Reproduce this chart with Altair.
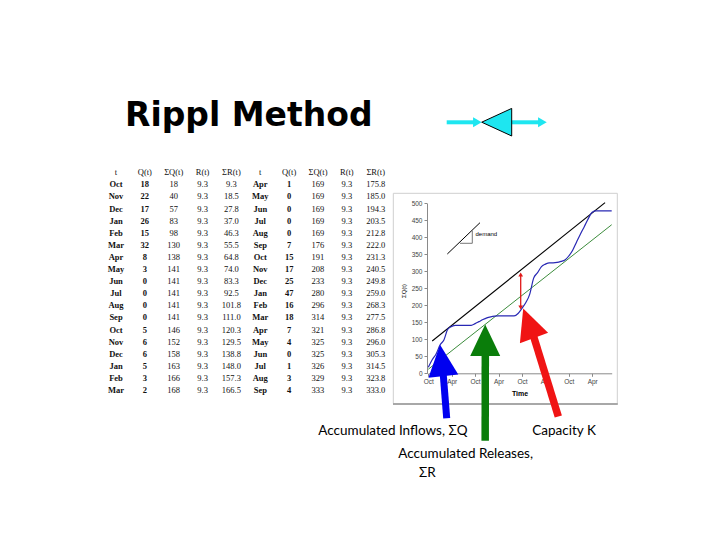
import altair as alt
import pandas as pd

# ---------------- data ----------------
headers = ["t", "Q(t)", "ΣQ(t)", "R(t)", "ΣR(t)"]

months_a = ["Oct", "Nov", "Dec", "Jan", "Feb", "Mar", "Apr", "May", "Jun",
            "Jul", "Aug", "Sep", "Oct", "Nov", "Dec", "Jan", "Feb", "Mar"]
q_a = [18, 22, 17, 26, 15, 32, 8, 3, 0, 0, 0, 0, 5, 6, 6, 5, 3, 2]
cq_a = [18, 40, 57, 83, 98, 130, 138, 141, 141, 141, 141, 141, 146, 152, 158, 163, 166, 168]
r_a = [9.3] * 18
cr_a = [9.3, 18.5, 27.8, 37.0, 46.3, 55.5, 64.8, 74.0, 83.3, 92.5, 101.8, 111.0,
        120.3, 129.5, 138.8, 148.0, 157.3, 166.5]

months_b = ["Apr", "May", "Jun", "Jul", "Aug", "Sep", "Oct", "Nov", "Dec",
            "Jan", "Feb", "Mar", "Apr", "May", "Jun", "Jul", "Aug", "Sep"]
q_b = [1, 0, 0, 0, 0, 7, 15, 17, 25, 47, 16, 18, 7, 4, 0, 1, 3, 4]
cq_b = [169, 169, 169, 169, 169, 176, 191, 208, 233, 280, 296, 314, 321, 325, 325, 326, 329, 333]
r_b = [9.3] * 18
cr_b = [175.8, 185.0, 194.3, 203.5, 212.8, 222.0, 231.3, 240.5, 249.8, 259.0, 268.3, 277.5,
        286.8, 296.0, 305.3, 314.5, 323.8, 333.0]

# graph continues past the table
cq_extra = [345, 362, 386, 410, 432, 455, 474, 478, 478, 478, 478, 478]

# straight lines
release_m = [0, 47]
release_v = [12, 437]
capacity_m = [1.0, 45.3]
capacity_v = [95, 502]

x_tick_labels = ["Oct", "Apr", "Oct", "Apr", "Oct", "Apr", "Oct", "Apr"]
y_ticks = [0, 50, 100, 150, 200, 250, 300, 350, 400, 450, 500]

# ---------------- tables ----------------
cells = []
for i, h in enumerate(headers + headers):
    cells.append({"col": i, "row": 0, "txt": h, "bold": False})
for r in range(18):
    left = [months_a[r], str(q_a[r]), str(cq_a[r]), f"{r_a[r]:.1f}", f"{cr_a[r]:.1f}"]
    right = [months_b[r], str(q_b[r]), str(cq_b[r]), f"{r_b[r]:.1f}", f"{cr_b[r]:.1f}"]
    for c, s in enumerate(left + right):
        cells.append({"col": c, "row": r + 1, "txt": s, "bold": c in (0, 1, 5, 6)})
table_df = pd.DataFrame(cells)

inflow_all = cq_a + cq_b + cq_extra
inflow_df = pd.DataFrame({"m": list(range(len(inflow_all))), "v": inflow_all})
release_df = pd.DataFrame({"m": release_m, "v": release_v})
capacity_df = pd.DataFrame({"m": capacity_m, "v": capacity_v})

ONE = alt.Data(values=[{"k": 0}])

# ---------------- scales ----------------
TX = alt.Scale(domain=[0, 9], range=[116, 375.7], nice=False, zero=False)
TY = alt.Scale(domain=[0, 18], range=[172.3, 390], nice=False, zero=False)
GX = alt.Scale(domain=[0, 47], range=[428.3, 611.7], nice=False, zero=False)
GY = alt.Scale(domain=[0, 500], range=[373.3, 203.3], nice=False, zero=False)

label_expr = str(x_tick_labels).replace(" ", "") + "[round(datum.value/6)]"

x_axis = alt.Axis(values=list(range(0, 48, 6)), labelExpr=label_expr, orient="bottom",
                  offset=-166.7, title=None, grid=False, domainColor="#8a8a8a",
                  tickColor="#8a8a8a", tickSize=3, labelFontSize=6.5,
                  labelFont="Liberation Sans", labelColor="#444", labelPadding=2,
                  labelFlush=False, labelOverlap=False)
y_axis = alt.Axis(values=y_ticks, orient="left", offset=-427, title=None, grid=False,
                  domainColor="#8a8a8a", tickColor="#8a8a8a", tickSize=3,
                  labelFontSize=6.5, labelFont="Liberation Sans", labelColor="#444",
                  labelPadding=2, labelFlush=False, labelOverlap=False)


def seg(x1, y1, x2, y2, color, w, cap="butt"):
    return alt.Chart(ONE).mark_rule(color=color, strokeWidth=w, strokeCap=cap).encode(
        x=alt.value(x1), y=alt.value(y1), x2=alt.value(x2), y2=alt.value(y2))


def sym(x, y, shape, size, fill, angle=0, stroke=None, sw=0.0):
    kw = dict(shape=shape, size=size, filled=True, color=fill, fill=fill, opacity=1,
              angle=angle, fillOpacity=1)
    if stroke:
        kw.update(stroke=stroke, strokeWidth=sw)
    else:
        kw.update(strokeWidth=0)
    return alt.Chart(ONE).mark_point(**kw).encode(x=alt.value(x), y=alt.value(y))


def txt(s, x, y, size, font, weight="normal", align="left", baseline="middle",
        color="black", angle=0):
    return alt.Chart(ONE).mark_text(text=s, fontSize=size, font=font, fontWeight=weight,
                                    align=align, baseline=baseline, color=color,
                                    angle=angle).encode(x=alt.value(x), y=alt.value(y))


# ---------------- layers ----------------
frame = alt.Chart(ONE).mark_rect(fillOpacity=0, stroke="#cfcfcf", strokeWidth=1).encode(
    x=alt.value(393.3), x2=alt.value(617.3), y=alt.value(193.3), y2=alt.value(403.5))
frame_bottom = seg(393, 404, 617.8, 404, "#a8a8a8", 2)

tbl_base = alt.Chart(table_df).encode(
    x=alt.X("col:Q", scale=TX, axis=None),
    y=alt.Y("row:Q", scale=TY, axis=None),
    text="txt:N")
tbl_norm = tbl_base.transform_filter("!datum.bold").mark_text(
    font="Liberation Serif", fontSize=8.5, color="#111", baseline="middle", align="center")
tbl_bold = tbl_base.transform_filter("datum.bold").mark_text(
    font="Liberation Serif", fontSize=8.5, color="#111", baseline="middle", align="center",
    fontWeight="bold")

release_line = alt.Chart(release_df).mark_line(color="#3c8c3c", strokeWidth=1).encode(
    x=alt.X("m:Q", scale=GX, axis=None), y=alt.Y("v:Q", scale=GY, axis=None))
capacity_line = alt.Chart(capacity_df).mark_line(color="black", strokeWidth=1.1).encode(
    x=alt.X("m:Q", scale=GX, axis=None), y=alt.Y("v:Q", scale=GY, axis=None))
inflow_line = alt.Chart(inflow_df).mark_line(color="#2828b4", strokeWidth=1.2,
                                             interpolate="monotone").encode(
    x=alt.X("m:Q", scale=GX, axis=x_axis), y=alt.Y("v:Q", scale=GY, axis=y_axis))

annotations = [
    # demand slope sketch
    seg(447.3, 254, 480, 222.7, "black", 1),
    seg(460, 243.3, 472.3, 243.3, "#555", 0.8),
    seg(472.3, 243.3, 472.3, 230.7, "#555", 0.8),
    txt("demand", 475.5, 234, 6, "Liberation Sans"),
    txt("ΣQ(t)", 404, 291, 6, "Liberation Sans", angle=270, align="center"),
    txt("Time", 520, 393.5, 7, "Liberation Sans", weight="bold", align="center"),
    # red double arrow (capacity)
    seg(520.7, 275, 520.7, 307, "#e01818", 1.3),
    sym(520.7, 274.5, "triangle-up", 22, "#e01818"),
    sym(520.7, 307.5, "triangle-down", 22, "#e01818"),
    # big pointer arrows
    seg(443.3, 375, 446.7, 418.3, "#0000f0", 7),
    sym(441.7, 360.5, "M0,-1.05L1,1.05L-1,1.05Z", 900, "#0000f0", angle=354),
    seg(485.3, 354, 485.2, 440.7, "#0a7d0a", 7.5),
    sym(485.2, 340.3, "M0,-1.05L1,1.05L-1,1.05Z", 900, "#0a7d0a", angle=0),
    seg(533.2, 335, 558.3, 416.5, "#f01414", 7.5),
    sym(528.6, 323.2, "M0,-1.05L1,1.05L-1,1.05Z", 900, "#f01414", angle=340),
    # title and cyan icon
    txt("Rippl Method", 125, 126, 33, "DejaVu Sans", weight="bold", baseline="alphabetic"),
    seg(446.7, 122.3, 474, 122.3, "#1ee6f0", 4),
    sym(477.4, 122.3, "triangle-right", 100, "#1ee6f0"),
    seg(511.7, 122.3, 539, 122.3, "#1ee6f0", 4),
    sym(542.4, 122.3, "triangle-right", 100, "#1ee6f0"),
    sym(496.7, 122.2, "M-1,0L1,-0.92L1,0.92Z", 900, "#1ee6f0", stroke="black", sw=1),
    # captions
    txt("Accumulated Inflows, ΣQ", 318.3, 431, 13.5, "Lato"),
    txt("Capacity K", 532.3, 431, 13.5, "Lato"),
    txt("Accumulated Releases,", 398.3, 454, 13.5, "Lato"),
    txt("ΣR", 419, 473, 13.5, "Lato"),
]

chart = alt.layer(
    frame, frame_bottom, tbl_norm, tbl_bold, release_line, capacity_line, inflow_line,
    *annotations
).resolve_scale(x="independent", y="independent").properties(
    width=720, height=540, padding=0, autosize=alt.AutoSizeParams(type="none"),
    background="white"
).configure_view(stroke=None)

chart.save("out.html", embed_options={"renderer": "svg", "actions": False})
